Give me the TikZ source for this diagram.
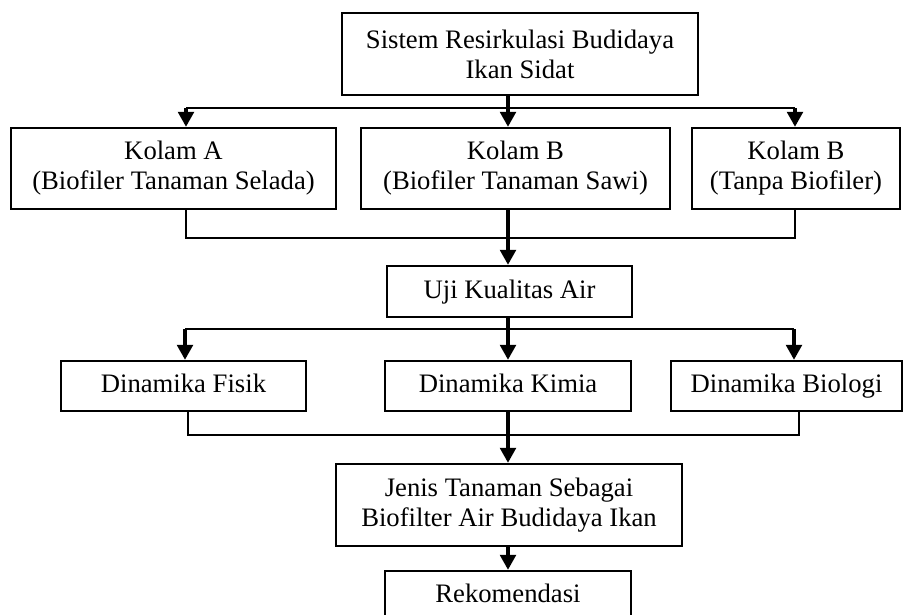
\documentclass[tikz,border=0pt]{standalone}
\usepackage{fontspec}
\setmainfont{Liberation Serif}
\usepackage{tikz}
\usetikzlibrary{arrows.meta}

\begin{document}
\begin{tikzpicture}[x=0.45pt,y=-0.45pt,
    box/.style 2 args={draw,line width=1pt,align=center,inner sep=0pt,
      minimum width=#1*0.45pt,minimum height=#2*0.45pt,
      font=\fontsize{12}{13.5}\selectfont},
    oneline/.style={text height=8.5pt,text depth=2.6pt},
    conn/.style={line width=1pt},
    arr/.style={line width=1.8pt,-{Triangle[width=7pt,length=6.8pt]}}]
      \useasboundingbox (0,0) rectangle (904,614);
      % boxes
      \node[box={356}{82}] (sistem) at (520,54) {Sistem Resirkulasi Budidaya\\Ikan Sidat};
      \node[box={325}{81}] (kolamA) at (173.5,168.5) {Kolam A\\(Biofiler Tanaman Selada)};
      \node[box={309}{81}] (kolamB) at (515.5,168.5) {Kolam B\\(Biofiler Tanaman Sawi)};
      \node[box={208}{81}] (kolamC) at (796,168.5) {Kolam B\\(Tanpa Biofiler)};
      \node[box={245}{51},oneline] (uji) at (509.5,291.5) {Uji Kualitas Air};
      \node[box={245}{50},oneline] (fisik) at (183.5,386) {Dinamika Fisik};
      \node[box={246}{50},oneline] (kimia) at (508,386) {Dinamika Kimia};
      \node[box={231}{50},oneline] (biologi) at (786.5,386) {Dinamika Biologi};
      \node[box={346}{82}] (jenis) at (509,505) {Jenis Tanaman Sebagai\\Biofilter Air Budidaya Ikan};
      \node[box={246}{50},oneline] (rekom) at (508,596) {Rekomendasi};
      % bus and merge points
      \coordinate (mid) at (508,0);
      \coordinate (splitL) at (186,108);
      \coordinate (splitR) at (795,108);
      \coordinate (joinL) at (186,238);
      \coordinate (joinR) at (795,238);
      \coordinate (dinL) at (185,329);
      \coordinate (dinR) at (794,329);
      \coordinate (hasilL) at (188,435);
      \coordinate (hasilR) at (799,435);
      % connectors
      \draw[conn] (splitL) -- (splitR);
      \draw[arr] (sistem.south -| mid) -- (kolamB.north -| mid);
      \draw[arr] (splitL) -- (kolamA.north -| splitL);
      \draw[arr] (splitR) -- (kolamC.north -| splitR);
      \draw[conn] (kolamA.south -| joinL) -- (joinL) -- (joinR) -- (kolamC.south -| joinR);
      \draw[arr] (kolamB.south -| mid) -- (uji.north -| mid);
      \draw[conn] (dinL) -- (dinR);
      \draw[arr] (uji.south -| mid) -- (kimia.north -| mid);
      \draw[arr] (dinL) -- (fisik.north -| dinL);
      \draw[arr] (dinR) -- (biologi.north -| dinR);
      \draw[conn] (fisik.south -| hasilL) -- (hasilL) -- (hasilR) -- (biologi.south -| hasilR);
      \draw[arr] (kimia.south -| mid) -- (jenis.north -| mid);
      \draw[arr] (jenis.south -| mid) -- (rekom.north -| mid);
\end{tikzpicture}
\end{document}
